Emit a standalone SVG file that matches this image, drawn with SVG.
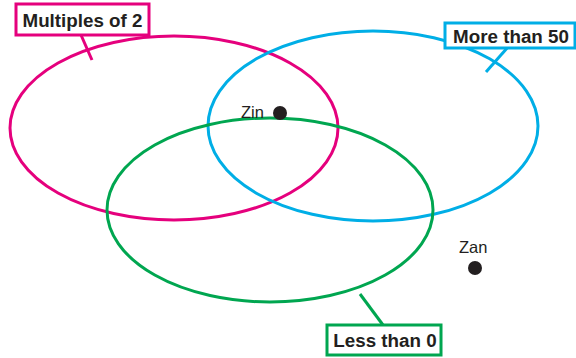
<svg xmlns="http://www.w3.org/2000/svg" width="576" height="358" viewBox="0 0 576 358">
<style>
.e{fill:none;stroke-width:3}
.box{fill:#fff;stroke-width:3}
.lbl{font-family:"Liberation Sans",Arial,sans-serif;font-weight:bold;font-size:18.8px;fill:#231f20}
.pt{font-family:"Liberation Sans",Arial,sans-serif;font-size:16.5px;fill:#231f20}
.pink{stroke:#e5007d}
.blue{stroke:#00aee6}
.green{stroke:#00a650}
</style>
<rect width="576" height="358" fill="#fff"/>
<g id="connectors">
<line class="e pink" x1="81" y1="35" x2="92" y2="60"/>
<line class="e blue" x1="508" y1="47" x2="486" y2="72"/>
<line class="e green" x1="360" y1="294" x2="383" y2="325"/>
</g>
<g id="multiples-of-2">
<ellipse class="e pink" cx="174" cy="128" rx="164" ry="92"/>
<rect class="box pink" x="16" y="4" width="133" height="31"/>
<text class="lbl" x="82.5" y="26.5" text-anchor="middle">Multiples of 2</text>
</g>
<g id="more-than-50">
<ellipse class="e blue" cx="373" cy="126" rx="165" ry="95"/>
<rect class="box blue" x="445" y="23" width="130" height="25"/>
<text class="lbl" x="511" y="42.5" text-anchor="middle">More than 50</text>
</g>
<g id="less-than-0">
<ellipse class="e green" cx="270" cy="210" rx="163" ry="92"/>
<rect class="box green" x="327" y="325" width="114" height="30"/>
<text class="lbl" x="385" y="347" text-anchor="middle">Less than 0</text>
</g>
<g id="zin">
<text class="pt" x="241" y="118">Zin</text>
<circle cx="280" cy="113" r="7" fill="#231f20"/>
</g>
<g id="zan">
<text class="pt" x="459" y="253">Zan</text>
<circle cx="475" cy="268" r="7" fill="#231f20"/>
</g>
</svg>
